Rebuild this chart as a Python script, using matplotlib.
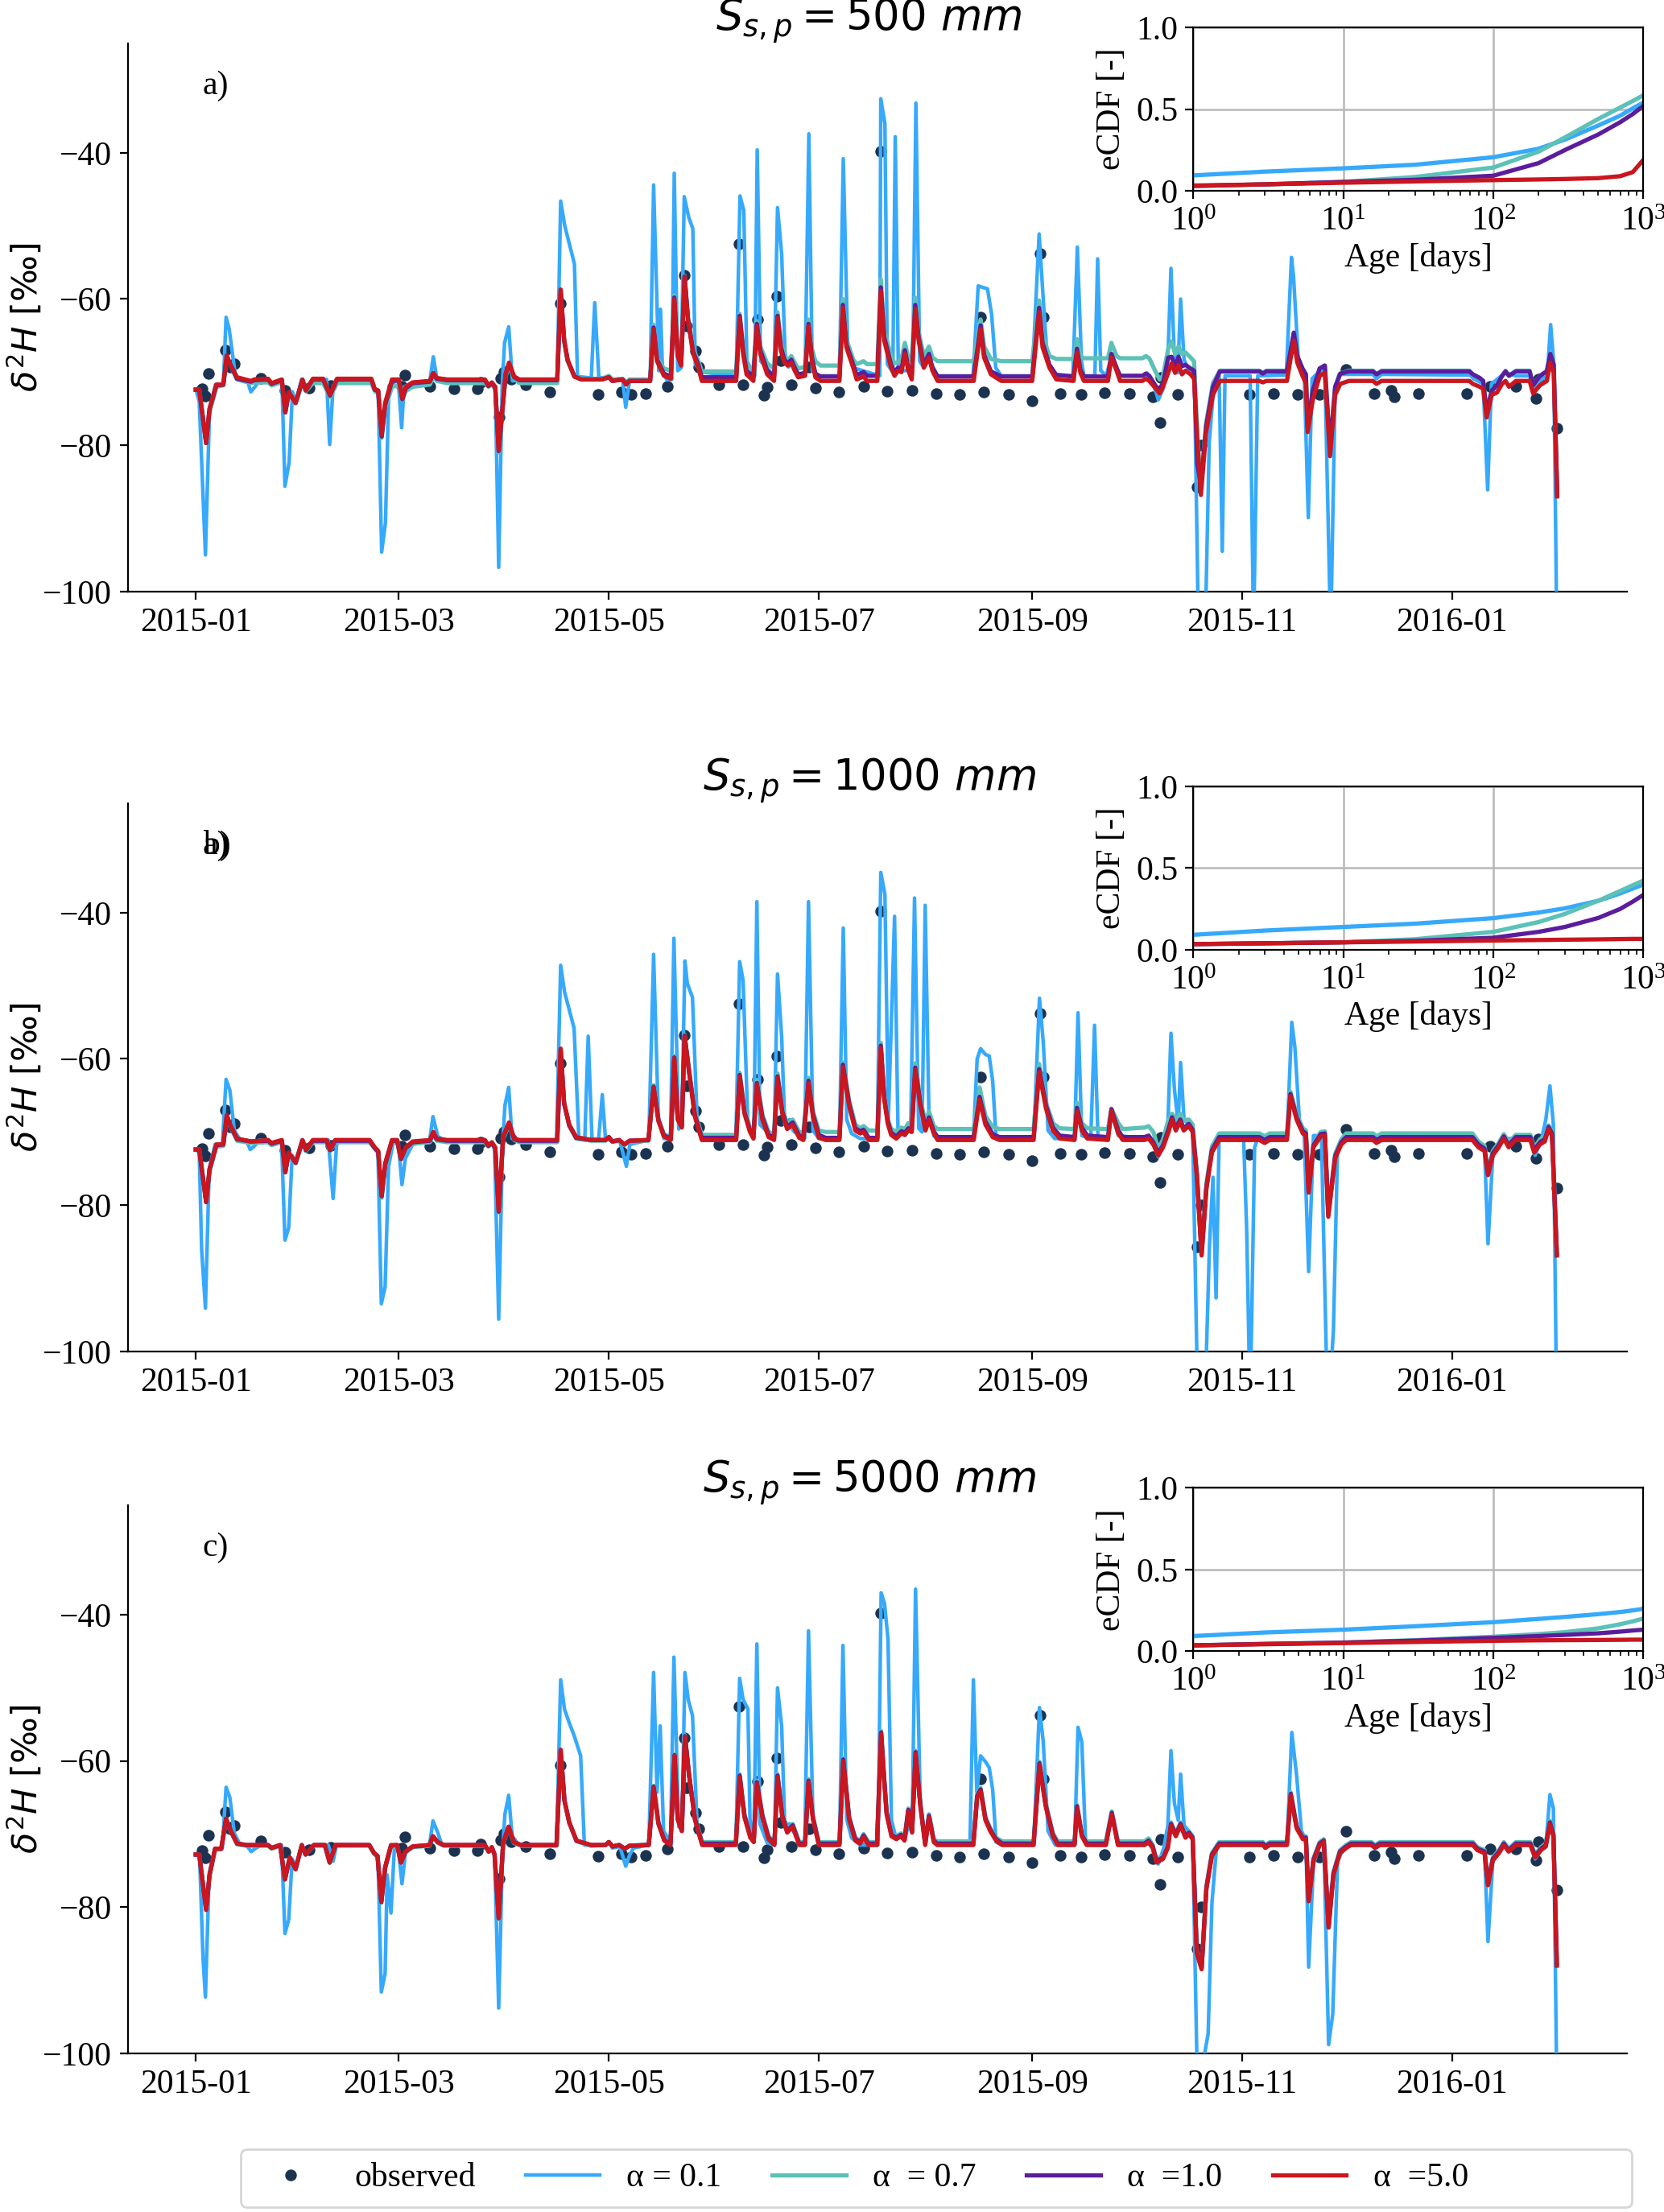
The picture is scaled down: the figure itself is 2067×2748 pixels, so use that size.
import numpy as np
import pandas as pd
import matplotlib
matplotlib.use('Agg')
import matplotlib.pyplot as plt
import matplotlib.dates as mdates

plt.rcParams['font.family'] = ['Liberation Serif', 'DejaVu Sans']
plt.rcParams['mathtext.fontset'] = 'stix'
plt.rcParams['font.size'] = 15

START = pd.Timestamp('2015-01-01')

# observed d2H, (day since 2015-01-01, value) - same in every panel
OBS = [(1.8, -72.3), (2.8, -73.3), (3.8, -70.2), (8.6, -67.0), (9.9, -69.3), (11.1, -68.9),
       (18.9, -70.9), (25.8, -72.5), (33, -72.2), (39.2, -71.8), (59.8, -71.9), (60.8, -70.4),
       (67.9, -71.9), (75, -72.3), (81.9, -72.3), (82.8, -71.4), (88.1, -76.1), (88.5, -70.8),
       (89.5, -70.0), (91.7, -71.0), (95.9, -71.7), (102.8, -72.7), (105.8, -60.6), (116.9, -73.0),
       (123.7, -72.7), (126.4, -73.1), (130.8, -72.9), (137, -72.0), (141.9, -56.8), (142.5, -63.7),
       (145.3, -67.1), (146.1, -69.3), (152, -71.7), (157.7, -52.5), (158.9, -71.7), (163.1, -62.8),
       (165, -73.2), (166.1, -72.1), (168.7, -59.6), (170, -68.4), (173, -71.7), (178.1, -69.3),
       (180.1, -72.2), (186.9, -72.7), (194, -71.9), (199, -39.8), (200.9, -72.6), (208.1, -72.5),
       (215.1, -72.9), (222, -73.1), (228, -62.5), (229, -72.7), (236.1, -73.1), (243, -73.9),
       (245.2, -53.8), (246.2, -62.5), (251.2, -72.9), (257.1, -73.1), (264.1, -72.8), (271.2, -72.9),
       (278.1, -73.4), (280.1, -76.9), (280.4, -70.7), (285.2, -73.1), (290.9, -85.7), (292, -80.0),
       (306.1, -73.1), (313.2, -72.9), (320.2, -73.1), (326.5, -73.1), (334.2, -69.6), (342.4, -72.9),
       (347.3, -72.5), (348.3, -73.4), (355.3, -72.9), (369.3, -72.9), (376.1, -72.0), (383.4, -72.0),
       (389.3, -73.6), (390.1, -71.0), (395.5, -77.7)]

# panel a) S=500 mm : (day, alpha=5.0, alpha=1.0, alpha=0.7)
P1_MODEL = [
    (0, -72.4, -72.4, -72.4), (1, -72.4, -72.4, -72.4), (3, -79.7, -79.7, -79.5), (4, -75.0, -75.0, -75.5),
    (6, -71.7, -71.8, -72.0), (8, -71.7, -71.7, -71.8), (9, -67.7, -67.8, -68.0), (10, -68.9, -69.0, -69.0),
    (12, -70.7, -70.9, -71.0), (16, -71.2, -71.3, -71.5), (17, -71.0, -71.1, -71.4), (21, -70.9, -71.0, -71.4),
    (22, -71.5, -71.6, -71.8), (25, -71.0, -71.1, -71.4), (26, -75.5, -75.5, -75.5), (27, -72.7, -72.8, -73.0),
    (29, -74.2, -74.2, -74.3), (31, -71.0, -71.1, -71.4), (32, -72.5, -72.5, -72.6), (34, -70.9, -71.0, -71.5),
    (37, -70.9, -71.0, -71.5), (39, -73.1, -73.2, -73.4), (41, -70.9, -71.0, -71.5), (51, -70.9, -71.0, -71.5),
    (52, -72.3, -72.4, -72.6), (53, -72.5, -72.6, -72.9), (54, -78.6, -78.8, -79.0), (55, -74.2, -74.5, -75.0),
    (57, -71.0, -71.2, -72.0), (59, -71.0, -71.1, -71.8), (60, -73.6, -73.7, -73.8), (61, -72.0, -72.2, -72.6),
    (63, -71.4, -71.5, -72.0), (68, -71.2, -71.3, -71.7), (69, -70.1, -70.2, -70.6), (70, -70.8, -70.9, -71.2),
    (73, -71.0, -71.1, -71.5), (84, -71.0, -71.1, -71.5), (85, -71.8, -71.9, -72.0), (86, -71.4, -71.5, -71.7),
    (87, -72.0, -72.1, -72.3), (88, -80.7, -80.8, -81.0), (90, -70.2, -70.3, -70.6), (91, -68.7, -68.8, -69.0),
    (92.5, -70.6, -70.7, -70.9), (94, -71.0, -71.1, -71.5), (105, -71.0, -71.1, -71.5), (106, -58.7, -58.8, -59.0),
    (107, -65.5, -65.6, -65.8), (108, -68.3, -68.3, -68.5), (110, -70.6, -70.6, -70.6), (112, -71.0, -71.0, -70.9),
    (118, -71.0, -71.0, -70.9), (120, -70.7, -70.7, -70.5), (121, -71.2, -71.2, -71.0), (124, -71.0, -71.0, -70.9),
    (125, -71.7, -71.6, -71.4), (126, -71.2, -71.2, -71.0), (132, -71.2, -71.2, -71.0), (133, -64.1, -63.9, -63.5),
    (134, -68.5, -68.3, -68.0), (136, -70.5, -70.2, -69.5), (138, -70.9, -70.6, -69.8), (139, -60.0, -59.8, -59.5),
    (140, -67.8, -67.5, -67.3), (141, -69.1, -68.9, -68.6), (142, -57.0, -56.9, -56.8), (143, -63.0, -62.8, -62.5),
    (144.5, -67.5, -67.2, -66.8), (146, -69.4, -69.0, -68.5), (147, -71.2, -70.7, -69.9), (157, -71.2, -70.7, -69.9),
    (158, -62.6, -62.3, -62.0), (159, -67.5, -67.0, -66.5), (160, -70.3, -69.8, -69.0), (162, -71.2, -70.6, -69.7),
    (163, -63.7, -63.4, -63.0), (164, -67.5, -67.0, -66.5), (166, -70.3, -69.8, -68.8), (168, -71.2, -70.6, -69.5),
    (169, -62.6, -62.3, -61.8), (170, -67.1, -66.6, -65.8), (171, -68.7, -68.3, -67.8), (172, -69.1, -68.8, -68.5),
    (173, -68.7, -68.3, -67.8), (174, -69.8, -69.4, -68.7), (175, -70.7, -70.3, -69.5), (177, -70.5, -70.1, -69.3),
    (178, -63.7, -63.4, -62.8), (179, -68.5, -68.0, -66.8), (180, -70.7, -70.2, -68.5), (181.5, -71.2, -70.6, -69.1),
    (187, -71.2, -70.6, -69.1), (188, -61.2, -60.8, -60.0), (189, -66.6, -66.2, -65.5), (191, -69.4, -69.0, -68.3),
    (192, -71.0, -70.4, -68.9), (194, -70.6, -70.0, -68.5), (195, -71.2, -70.5, -68.9), (198, -71.2, -70.5, -68.9),
    (199, -58.9, -58.4, -57.3), (200, -65.7, -65.2, -64.3), (202, -69.4, -69.0, -67.8), (203, -70.5, -70.0, -68.8),
    (204, -69.8, -69.4, -68.6), (205, -70.0, -69.6, -68.2), (206, -67.5, -67.0, -66.0), (207, -69.8, -69.4, -68.0),
    (208, -71.0, -70.4, -68.5), (209, -61.3, -60.8, -59.8), (210, -65.7, -65.3, -64.5), (211.5, -69.4, -69.0, -67.8),
    (213, -68.0, -67.5, -66.5), (214, -69.8, -69.4, -68.0), (215.5, -71.2, -70.6, -68.5), (226, -71.2, -70.6, -68.5),
    (228, -64.1, -63.6, -62.8), (229, -68.0, -67.6, -66.5), (231, -70.3, -69.9, -68.2), (234, -71.2, -70.6, -68.5),
    (243, -71.2, -70.6, -68.5), (245, -61.8, -61.2, -60.2), (246, -66.6, -66.0, -65.0), (248, -69.4, -69.0, -67.8),
    (250, -71.0, -70.4, -68.2), (255, -71.2, -70.6, -68.2), (256, -67.3, -66.8, -65.5), (257, -70.1, -69.7, -67.8),
    (258, -71.2, -70.6, -68.1), (265, -71.2, -70.6, -68.1), (266, -68.0, -67.5, -66.0), (267.5, -69.8, -69.4, -67.8),
    (268.5, -71.2, -70.5, -68.1), (275, -71.2, -70.5, -68.1), (276, -70.9, -70.2, -67.8), (277, -71.2, -70.5, -68.1),
    (279, -72.3, -72.0, -70.1), (280, -72.9, -72.3, -71.0), (281, -72.0, -71.5, -70.5), (282.5, -70.1, -68.0, -66.8),
    (283.5, -68.8, -67.9, -65.8), (284.5, -70.1, -69.2, -67.5), (285.5, -69.0, -67.9, -66.5), (286.5, -70.3, -69.2, -67.5),
    (287.5, -69.8, -69.0, -67.3), (289, -70.3, -69.5, -68.0), (290, -70.9, -69.8, -68.5), (291, -79.7, -82.6, -79.0),
    (292, -86.8, -85.5, -85.5), (293.5, -78.2, -77.5, -77.0), (295.5, -73.1, -72.0, -71.5), (297.5, -71.2, -69.9, -69.8),
    (309, -71.2, -69.9, -69.8), (310, -71.4, -70.2, -70.1), (311, -71.2, -69.9, -69.8), (317, -71.2, -69.9, -69.8),
    (318, -68.3, -67.2, -67.2), (319, -65.7, -64.6, -64.6), (320, -68.7, -67.8, -67.8), (321.5, -70.5, -69.5, -69.5),
    (322.5, -71.5, -70.3, -70.3), (323, -78.2, -77.5, -77.5), (324.5, -73.8, -72.5, -72.5), (326.5, -70.5, -69.5, -69.5),
    (328, -70.1, -69.1, -69.1), (329.5, -81.5, -80.5, -80.5), (331, -73.1, -72.0, -72.0), (332.5, -71.6, -70.2, -70.2),
    (335, -71.2, -69.9, -69.8), (342, -71.2, -69.9, -69.8), (343, -71.6, -70.3, -70.3), (344.5, -71.2, -69.9, -69.8),
    (370, -71.2, -69.9, -69.8), (371, -71.6, -70.3, -70.3), (373, -72.0, -70.8, -70.8), (374, -72.3, -71.2, -71.2),
    (375, -76.2, -75.5, -75.5), (376.5, -73.1, -72.5, -72.5), (378, -72.8, -71.8, -71.8), (379.5, -71.6, -70.5, -70.5),
    (380.5, -71.2, -69.9, -69.8), (381.5, -72.0, -70.5, -70.5), (383.5, -71.2, -69.9, -69.8), (387.5, -71.2, -69.9, -69.8),
    (388.5, -72.9, -71.8, -71.8), (390.5, -71.8, -70.5, -70.5), (392.5, -71.2, -69.9, -69.8), (393.5, -68.7, -67.5, -67.5),
    (394.5, -70.1, -69.0, -69.0), (395.5, -87.0, -86.7, -86.5)]

# panel a) alpha = 0.1 : (day, value)
P1_BLUE = [
    (0, -72.3), (1, -74.0), (2.8, -95.0), (4, -75.2), (5.7, -71.7), (8, -71.7), (8.8, -62.5), (9.7, -64.1),
    (11.6, -70.8), (15, -71.2), (16, -72.7), (17.2, -72.0), (18.5, -71.1), (21, -70.9), (22, -71.5), (25, -71.0),
    (25.9, -85.6), (27.1, -82.4), (28.1, -72.7), (29, -74.2), (30.7, -71.0), (31.7, -72.5), (34, -70.9), (38, -71.0),
    (38.9, -79.9), (39.9, -71.9), (41, -71.0), (51, -71.0), (52, -72.5), (53, -73.0), (54, -94.6), (55.1, -90.6),
    (56.1, -71.9), (58.8, -71.0), (59.8, -77.6), (60.5, -72.0), (63.5, -71.4), (68, -71.2), (69, -67.9), (70, -70.8),
    (73, -71.0), (84, -71.0), (85, -71.8), (86, -71.4), (87, -72.0), (88, -96.7), (89, -72.0), (89.7, -66.0),
    (90.9, -63.8), (92, -71.2), (94, -71.0), (105, -71.0), (106, -46.6), (107.2, -50.0), (110, -55.2), (110.9, -70.6),
    (114.9, -70.8), (115.9, -60.5), (117.1, -70.8), (120, -70.7), (121, -71.2), (124, -71.0), (124.9, -74.8),
    (126, -71.2), (132, -71.2), (133, -44.4), (133.8, -57.5), (134.5, -69.8), (135, -61.4), (135.6, -69.8),
    (136.8, -71.0), (138.3, -71.0), (139, -42.8), (140, -69.8), (141, -69.4), (141.9, -46.0), (143.2, -48.8),
    (144.4, -50.4), (145.1, -68.9), (147, -70.0), (157, -70.5), (158.1, -45.9), (159.2, -47.9), (160.1, -68.5),
    (162.4, -70.5), (163.1, -39.6), (164.1, -68.5), (168, -70.5), (169, -47.5), (170.2, -53.8), (171.2, -67.5),
    (172.2, -69.3), (173.2, -68.7), (175.3, -70.5), (177, -70.5), (178.1, -37.4), (179.1, -69.8), (181, -70.5),
    (187, -70.5), (188.1, -40.8), (189.4, -66.6), (191, -69.4), (198.7, -70.5), (199, -32.6), (200.2, -36.0),
    (200.9, -68.9), (202.5, -70.0), (203.2, -37.8), (204.1, -69.8), (206, -69.8), (208.3, -69.4), (209.2, -33.2),
    (210.3, -68.5), (211.5, -69.4), (213, -68.2), (215.5, -70.5), (225.8, -70.5), (227.3, -58.2), (228.5, -58.4),
    (230, -58.6), (231.2, -62.1), (232.4, -69.4), (234, -70.5), (243, -70.5), (245, -51.1), (246.1, -59.3),
    (247.4, -68.5), (249.5, -70.3), (254.8, -70.5), (256.1, -52.9), (257.3, -68.5), (258, -70.5), (261.2, -70.5),
    (262, -54.5), (262.9, -69.8), (264.5, -70.5), (266, -67.8), (268.5, -70.5), (275.4, -70.5), (276.3, -70.1),
    (277.5, -70.8), (279.2, -73.1), (279.6, -73.8), (281.1, -72.2), (282.5, -66.8), (283.3, -55.8), (284.2, -66.8),
    (285.3, -70.1), (286.1, -60.0), (287.1, -68.3), (288.2, -69.4), (290.1, -70.1), (291.1, -100), (292, -110),
    (293.5, -100), (294.4, -79.7), (295.8, -71.6), (297.3, -70.5), (298.2, -94.5), (299, -70.5), (306.3, -70.5),
    (307.3, -106), (308.5, -70.5), (316.8, -70.4), (318.3, -54.3), (318.9, -56.9), (320.4, -69.0), (322, -70.1),
    (323.2, -89.9), (324.3, -70.9), (326, -70.1), (328, -69.8), (329.7, -106), (331, -72.3), (332.1, -70.3),
    (342, -70.3), (343, -70.9), (344.5, -70.3), (370.2, -70.4), (371.2, -70.9), (374, -71.6), (375.3, -86.1),
    (376.4, -71.6), (379.3, -70.5), (380.5, -70.1), (383.5, -70.5), (387.4, -70.5), (388.8, -72.3), (390.4, -71.2),
    (392.6, -70.5), (393.6, -63.5), (394.5, -68.7), (395.5, -110)]

# panel b) S=1000 mm : (day, alpha=5.0, alpha=1.0, alpha=0.7)
P2_MODEL = [
    (0, -72.4, -72.4, -72.4), (1, -72.4, -72.4, -72.4), (3, -79.6, -79.6, -79.4), (4, -75.1, -75.1, -75.4),
    (6, -71.7, -71.8, -72.0), (8, -71.7, -71.7, -71.9), (9, -67.7, -67.8, -68.0), (10, -69.0, -69.1, -69.2),
    (12, -70.9, -71.0, -71.2), (16, -71.3, -71.3, -71.5), (21, -71.1, -71.2, -71.4), (22, -71.5, -71.6, -71.8),
    (25, -71.1, -71.2, -71.4), (26, -75.5, -75.5, -75.5), (27, -72.8, -72.9, -73.0), (29, -74.2, -74.2, -74.3),
    (31, -71.1, -71.2, -71.4), (32, -72.4, -72.5, -72.6), (34, -71.1, -71.2, -71.4), (38, -71.1, -71.2, -71.4),
    (39, -72.4, -72.5, -72.6), (40.5, -71.1, -71.2, -71.4), (50.5, -71.1, -71.2, -71.4), (52, -72.1, -72.2, -72.3),
    (53, -72.6, -72.7, -72.8), (54, -78.7, -78.8, -79.0), (55, -74.3, -74.5, -74.8), (57, -71.1, -71.2, -71.5),
    (58.5, -71.1, -71.2, -71.4), (59.6, -73.6, -73.7, -73.8), (61, -72.1, -72.2, -72.4), (63, -71.3, -71.4, -71.6),
    (68, -71.1, -71.2, -71.4), (69, -70.0, -70.1, -70.3), (70, -70.9, -71.0, -71.2), (73, -71.1, -71.2, -71.4),
    (84, -71.1, -71.2, -71.4), (85, -71.8, -71.9, -72.0), (86, -71.4, -71.5, -71.6), (87, -72.1, -72.2, -72.3),
    (88, -80.8, -80.9, -81.0), (89.3, -70.6, -70.7, -70.9), (91, -68.7, -68.8, -69.0), (92.5, -70.9, -71.0, -71.1),
    (94, -71.1, -71.2, -71.4), (105, -71.1, -71.2, -71.4), (106, -58.6, -58.7, -58.8), (107, -66.0, -66.1, -66.2),
    (108.5, -69.0, -69.1, -69.2), (110.5, -70.7, -70.8, -70.9), (115, -71.1, -71.1, -71.2), (119, -71.1, -71.1, -71.2),
    (120, -70.7, -70.7, -70.8), (121, -71.3, -71.3, -71.3), (123, -71.1, -71.1, -71.2), (124.5, -71.7, -71.7, -71.8),
    (126, -71.2, -71.2, -71.3), (131.5, -71.1, -71.1, -71.2), (133, -63.9, -63.8, -63.6), (134.4, -68.5, -68.4, -68.2),
    (136, -70.6, -70.5, -70.3), (138, -71.1, -70.9, -70.7), (139, -59.9, -59.8, -59.6), (140, -68.3, -68.1, -67.9),
    (141.2, -69.4, -69.2, -69.0), (142, -56.9, -56.8, -56.7), (143.3, -61.8, -61.7, -61.5), (145, -67.9, -67.7, -67.4),
    (147, -71.1, -70.8, -70.4), (157, -71.1, -70.8, -70.4), (158, -62.4, -62.2, -61.9), (159.4, -67.5, -67.3, -66.9),
    (161, -70.0, -69.8, -69.4), (162, -70.9, -70.6, -70.2), (163, -63.5, -63.3, -62.9), (164.6, -68.3, -68.0, -67.6),
    (166.4, -70.7, -70.4, -70.0), (168, -71.1, -70.8, -70.3), (169, -62.6, -62.4, -62.0), (170.4, -67.5, -67.2, -66.8),
    (171.8, -69.6, -69.3, -68.9), (173.4, -69.0, -68.7, -68.3), (175.3, -70.8, -70.5, -70.0), (176.5, -71.1, -70.8, -70.1),
    (178, -63.3, -63.0, -62.6), (179.3, -67.9, -67.6, -67.2), (181, -70.8, -70.4, -69.8), (183, -71.1, -70.8, -70.0),
    (187, -71.1, -70.8, -70.0), (188, -61.1, -60.8, -60.5), (189.8, -66.4, -66.1, -65.7), (191.6, -69.8, -69.5, -69.0),
    (193, -70.2, -69.9, -69.5), (194, -70.0, -69.7, -69.2), (195.5, -71.1, -70.8, -69.8), (198, -71.1, -70.8, -69.8),
    (199, -58.5, -58.2, -57.8), (200, -65.5, -65.3, -65.0), (201, -68.8, -68.5, -68.2), (202, -70.4, -70.1, -69.6),
    (203.5, -70.9, -70.6, -69.9), (205, -70.2, -69.9, -69.4), (206, -70.4, -70.1, -69.6), (207, -69.8, -69.5, -68.8),
    (208, -70.0, -69.7, -69.2), (209, -61.5, -61.2, -60.6), (210.5, -66.4, -66.1, -65.5), (212, -69.8, -69.5, -68.8),
    (213, -68.3, -68.0, -67.2), (214.4, -70.2, -69.9, -69.2), (215.5, -71.1, -70.7, -69.6), (226, -71.1, -70.7, -69.6),
    (227.7, -65.6, -65.2, -63.9), (229.4, -69.0, -68.6, -67.8), (231.5, -70.7, -70.3, -69.3), (233.5, -71.1, -70.7, -69.6),
    (243.4, -71.1, -70.7, -69.6), (245, -61.8, -61.4, -60.7), (247, -66.8, -66.4, -66.0), (249, -69.8, -69.4, -68.8),
    (251, -70.9, -70.5, -69.5), (255.3, -71.1, -70.7, -69.6), (256, -67.1, -66.7, -66.0), (257.4, -69.8, -69.4, -68.8),
    (259, -70.9, -70.5, -69.5), (265, -71.1, -70.7, -69.6), (266, -67.1, -66.9, -66.8), (268, -70.2, -69.8, -68.8),
    (269.3, -71.1, -70.7, -69.6), (275.6, -71.1, -70.7, -69.4), (276.8, -70.9, -70.5, -69.2), (278.2, -71.7, -71.4, -70.0),
    (279.6, -73.2, -72.9, -72.4), (281, -72.1, -71.8, -71.0), (282.6, -70.0, -69.6, -68.3), (283.6, -68.3, -68.0, -67.5),
    (284.7, -69.8, -69.5, -68.3), (286, -68.6, -68.3, -67.5), (287, -69.8, -69.5, -68.4), (288.5, -69.2, -68.9, -68.3),
    (289.6, -70.0, -69.7, -69.0), (290.8, -75.9, -75.7, -75.5), (292.2, -86.9, -86.6, -86.0), (293.6, -77.8, -77.5, -77.0),
    (295.2, -72.8, -72.5, -72.0), (297.3, -71.1, -70.7, -70.2), (309, -71.1, -70.7, -70.2), (310.5, -71.5, -71.1, -70.6),
    (312, -71.1, -70.7, -70.2), (317, -71.1, -70.7, -70.2), (318, -65.1, -64.8, -64.5), (319.8, -68.3, -68.0, -67.6),
    (321.6, -70.2, -69.9, -69.5), (322.5, -70.5, -70.2, -69.8), (323.3, -78.3, -78.0, -77.8), (324.7, -72.1, -71.8, -71.6),
    (326.8, -70.6, -70.3, -70.0), (328, -70.5, -70.2, -69.9), (329, -81.6, -81.3, -81.0), (331, -73.6, -73.3, -73.0),
    (332.8, -71.7, -71.4, -71.0), (334.2, -71.1, -70.7, -70.2), (342, -71.1, -70.7, -70.2), (343, -71.5, -71.1, -70.6),
    (344.5, -71.1, -70.7, -70.2), (370.9, -71.1, -70.7, -70.2), (372.6, -72.1, -71.7, -71.3), (374.4, -72.6, -72.3, -71.9),
    (375.4, -75.9, -75.7, -75.4), (376.8, -73.2, -72.9, -72.6), (378.5, -72.1, -71.8, -71.5), (380, -70.9, -70.6, -70.3),
    (381.4, -72.1, -71.8, -71.4), (383.5, -71.1, -70.7, -70.4), (387.7, -71.1, -70.7, -70.4), (388.8, -72.8, -72.5, -72.2),
    (390.5, -71.7, -71.4, -71.0), (391.9, -71.3, -71.0, -70.6), (393, -69.6, -69.3, -69.1), (394, -70.5, -70.2, -69.9),
    (395.4, -86.9, -86.7, -86.5)]

P2_BLUE = [
    (0, -72.4), (1, -72.8), (1.7, -86.1), (2.8, -94.1), (3.9, -75.1), (5.6, -71.7), (7.7, -71.9), (8.8, -62.8),
    (9.9, -64.3), (11.2, -69.8), (12.9, -71.1), (14.7, -71.1), (15.8, -72.4), (17.1, -71.9), (18.5, -71.1), (21, -71.1),
    (22, -71.7), (24.9, -71.1), (25.9, -84.8), (27, -83.1), (28, -73.2), (29.1, -74.3), (30.8, -71.1), (31.9, -72.6),
    (34.3, -71.1), (38.5, -71.1), (39.9, -79.1), (40.9, -71.7), (42, -71.1), (50.4, -71.1), (51.8, -72.1), (52.9, -72.6),
    (53.9, -93.5), (55, -91.2), (56, -74.7), (57.4, -71.3), (58.8, -71.3), (59.9, -77.2), (60.9, -73.6), (63, -71.7),
    (67.9, -71.3), (68.9, -67.9), (70.3, -70.6), (72, -71.1), (84, -71.1), (85.1, -71.9), (86, -71.4), (86.8, -72.4),
    (88, -95.6), (89.1, -72.1), (89.8, -66.4), (90.9, -63.9), (91.9, -70.9), (93.8, -71.1), (104.8, -71.1),
    (106, -47.2), (107.1, -50.8), (109.9, -55.8), (111.3, -71.0), (113, -71.1), (114, -56.9), (115.1, -70.9),
    (117, -71.1), (118.1, -64.9), (119, -70.9), (121, -71.3), (123.2, -71.3), (125.1, -74.7), (126.1, -71.7),
    (131.6, -71.1), (133, -45.7), (134.4, -68.3), (136, -70.9), (137.9, -70.9), (138.9, -43.5), (140.3, -69.6),
    (141.2, -68.3), (142.1, -46.6), (142.8, -49.7), (144.3, -51.6), (145.7, -69.0), (147.1, -71.1), (156.9, -71.1),
    (158, -46.7), (159, -49.3), (160.4, -69.0), (162.1, -70.9), (163, -38.5), (163.9, -69.0), (168, -70.9),
    (169, -48.4), (170.2, -56.9), (171.1, -69.0), (172.5, -68.3), (173.5, -69.8), (175.5, -70.6), (176.9, -70.9),
    (178, -38.5), (179.3, -69.8), (181, -70.9), (187, -70.9), (188.1, -42.1), (189.1, -68.3), (190.5, -70.2),
    (193, -70.9), (198, -70.9), (199, -34.5), (200.2, -37.5), (201.2, -68.3), (203, -40.5), (204, -69.8),
    (206, -70.5), (207.7, -69.0), (208.8, -38.0), (210, -69.5), (211, -70.0), (211.9, -39.0), (213, -68.0),
    (214.5, -70.6), (216, -70.9), (225.9, -70.9), (227, -60.0), (228, -58.6), (229.4, -59.4), (230.5, -59.6),
    (231.5, -63.0), (232.5, -70.9), (243.4, -70.9), (245.1, -51.7), (246.2, -57.7), (247.6, -69.8), (249.5, -70.9),
    (255.3, -70.9), (256.3, -53.7), (257.4, -70.5), (260, -70.9), (261.1, -55.4), (262.1, -70.9), (265, -70.9),
    (266, -67.3), (268, -70.5), (275.6, -70.9), (276.8, -70.9), (278.4, -72.0), (279.6, -73.4), (281, -71.7),
    (282.4, -69.0), (283.3, -56.5), (284.3, -64.1), (285.4, -69.0), (286.1, -60.5), (287.1, -68.3), (288.5, -69.0),
    (289.6, -69.8), (290.8, -100), (292, -112), (293.6, -100), (294.5, -85.3), (295.5, -76.2), (296.4, -92.7),
    (297.3, -70.6), (304.4, -70.9), (305.3, -83.4), (306.3, -108), (307.6, -72.1), (308.5, -70.9), (317, -70.9),
    (318.4, -55.0), (319.3, -58.4), (320.7, -69.0), (322, -70.5), (323.3, -89.1), (324.7, -70.5), (327, -70.5),
    (328.6, -104), (329.6, -104), (330.5, -97.1), (331.7, -72.1), (332.8, -71.3), (334, -70.9), (370.9, -70.9),
    (372.6, -71.7), (374.4, -72.4), (375.4, -85.3), (376.8, -73.2), (378.6, -71.7), (380, -70.9), (383.5, -70.9),
    (387.7, -70.9), (389.1, -73.2), (391, -70.9), (392.2, -68.3), (393.4, -63.7), (394.4, -69.0), (395.4, -110)]

# panel c) S=5000 mm : (day, alpha=5.0, alpha=1.0, alpha=0.7)
P3_MODEL = [
    (0, -72.8, -72.8, -72.8), (1, -72.8, -72.8, -72.8), (3, -80.4, -80.3, -80.2), (4, -75.6, -75.6, -75.7),
    (5.6, -72.0, -72.0, -72.1), (7.4, -72.0, -72.0, -72.1), (8.8, -67.9, -67.9, -68.0), (10.2, -69.6, -69.6, -69.7),
    (12, -71.3, -71.3, -71.4), (14.7, -71.5, -71.5, -71.6), (21, -71.5, -71.5, -71.6), (22, -71.9, -71.9, -72.0),
    (24.5, -71.5, -71.5, -71.6), (25.9, -76.2, -76.2, -76.2), (27.3, -73.2, -73.2, -73.3), (29, -74.8, -74.8, -74.8),
    (30.8, -71.5, -71.5, -71.6), (31.9, -72.8, -72.8, -72.8), (34.3, -71.5, -71.5, -71.6), (37.5, -71.5, -71.5, -71.6),
    (38.9, -73.9, -73.9, -73.9), (40.6, -71.5, -71.5, -71.6), (50.4, -71.5, -71.5, -71.6), (51.8, -72.6, -72.6, -72.7),
    (52.8, -73.0, -73.0, -73.1), (53.9, -79.2, -79.3, -79.4), (55, -74.5, -74.6, -74.8), (56.7, -71.5, -71.6, -71.8),
    (58.5, -71.5, -71.5, -71.6), (59.6, -73.9, -73.9, -73.9), (60.9, -72.4, -72.4, -72.5), (63, -71.7, -71.7, -71.8),
    (67.9, -71.5, -71.5, -71.6), (68.9, -70.3, -70.3, -70.4), (70.3, -71.1, -71.1, -71.2), (72, -71.5, -71.5, -71.6),
    (84, -71.5, -71.5, -71.6), (85.1, -72.4, -72.4, -72.4), (86, -71.8, -71.8, -71.9), (86.8, -72.8, -72.8, -72.8),
    (88, -81.5, -81.5, -81.6), (89.3, -71.1, -71.2, -71.3), (90.9, -69.0, -69.0, -69.1), (92.4, -71.1, -71.1, -71.2),
    (94.5, -71.5, -71.5, -71.6), (104.8, -71.5, -71.5, -71.6), (106, -58.5, -58.5, -58.5), (107.1, -65.4, -65.4, -65.5),
    (108.5, -68.4, -68.4, -68.5), (110.6, -70.9, -70.9, -71.0), (114.8, -71.5, -71.5, -71.6), (119, -71.5, -71.5, -71.5),
    (120, -71.1, -71.1, -71.1), (121.1, -71.7, -71.7, -71.7), (123, -71.5, -71.5, -71.5), (124.6, -72.0, -72.0, -72.0),
    (126, -71.6, -71.6, -71.6), (131.6, -71.5, -71.5, -71.4), (133, -63.6, -63.5, -63.4), (134.4, -68.6, -68.5, -68.4),
    (136.1, -70.9, -70.8, -70.7), (137.9, -71.5, -71.4, -71.3), (139.1, -59.3, -59.2, -59.1), (140, -68.0, -67.9, -67.8),
    (141.2, -69.6, -69.5, -69.4), (142.1, -56.7, -56.6, -56.5), (143.3, -62.0, -61.9, -61.8), (145, -68.0, -67.9, -67.7),
    (147.1, -71.5, -71.3, -71.1), (156.9, -71.5, -71.3, -71.1), (158, -62.2, -62.0, -61.8), (159.4, -67.7, -67.5, -67.3),
    (161.1, -70.5, -70.3, -70.1), (162.1, -71.1, -70.9, -70.7), (163, -63.1, -62.9, -62.7), (164.6, -67.7, -67.5, -67.3),
    (166.4, -70.7, -70.5, -70.3), (168.1, -71.5, -71.3, -71.1), (169, -62.2, -62.0, -61.8), (170.4, -67.7, -67.5, -67.3),
    (171.8, -69.8, -69.6, -69.4), (173.4, -69.0, -68.8, -68.6), (175.3, -71.5, -71.3, -71.1), (177, -71.5, -71.3, -71.1),
    (178, -62.9, -62.7, -62.5), (179.3, -68.0, -67.8, -67.6), (181, -71.5, -71.3, -71.1), (187, -71.5, -71.3, -71.1),
    (188.1, -60.0, -59.8, -59.6), (189.8, -68.0, -67.8, -67.6), (191.6, -70.9, -70.7, -70.5), (193, -71.3, -71.1, -70.9),
    (194, -70.4, -70.2, -70.0), (195.4, -71.5, -71.3, -71.1), (197.9, -71.5, -71.3, -71.1), (199.1, -56.3, -56.1, -55.9),
    (200, -62.8, -62.6, -62.4), (200.7, -67.3, -67.1, -66.9), (202.1, -70.3, -70.1, -69.9), (203.5, -70.7, -70.5, -70.3),
    (204.9, -70.3, -70.1, -69.9), (205.9, -70.9, -70.7, -70.5), (207, -66.9, -66.7, -66.5), (208.1, -69.8, -69.6, -69.4),
    (209.1, -59.0, -58.8, -58.6), (210.5, -66.2, -66.0, -65.8), (211.9, -71.5, -71.3, -71.1), (213, -67.7, -67.5, -67.3),
    (214.4, -71.1, -70.9, -70.7), (215.4, -71.5, -71.3, -71.0), (225.9, -71.5, -71.3, -71.0), (227, -65.0, -64.8, -64.6),
    (228, -64.1, -63.9, -63.7), (229.4, -68.1, -67.9, -67.7), (230.8, -69.6, -69.4, -69.2), (232.5, -70.9, -70.7, -70.5),
    (234.3, -71.5, -71.3, -71.0), (243.4, -71.5, -71.3, -71.0), (245.1, -60.5, -60.3, -60.1), (246.9, -66.2, -66.0, -65.8),
    (249, -70.3, -70.1, -69.9), (250.4, -71.5, -71.3, -71.0), (255.3, -71.5, -71.3, -71.0), (256, -66.4, -66.2, -66.0),
    (257.4, -70.3, -70.1, -69.9), (258.8, -71.5, -71.3, -71.0), (264.4, -71.5, -71.3, -71.0), (266.1, -67.3, -67.1, -66.9),
    (267.9, -71.5, -71.3, -71.0), (275.6, -71.5, -71.3, -71.0), (276.8, -71.1, -70.9, -70.6), (278, -71.9, -71.7, -71.5),
    (279.1, -73.9, -73.7, -73.5), (281, -73.4, -73.2, -73.0), (282.4, -71.9, -71.7, -71.5), (283.3, -68.8, -68.6, -68.4),
    (284.7, -70.3, -70.1, -69.9), (286.1, -68.8, -68.6, -68.4), (287.5, -70.5, -70.3, -70.1), (288.5, -70.0, -69.8, -69.6),
    (289.6, -70.7, -70.5, -70.3), (290.8, -86.3, -86.1, -85.9), (292.2, -88.5, -88.3, -88.1), (293.6, -77.5, -77.3, -77.1),
    (295.2, -73.0, -72.8, -72.6), (297.3, -71.5, -71.3, -71.1), (310, -71.5, -71.3, -71.1), (310.7, -71.9, -71.7, -71.5),
    (312, -71.5, -71.3, -71.1), (317, -71.5, -71.3, -71.1), (318.1, -64.7, -64.5, -64.3), (319.8, -69.2, -69.0, -68.8),
    (321.6, -70.7, -70.5, -70.3), (322.5, -70.7, -70.5, -70.3), (323.3, -79.2, -79.0, -78.8), (324.7, -73.7, -73.5, -73.3),
    (326.5, -71.5, -71.3, -71.1), (327.7, -71.1, -70.9, -70.7), (329.1, -82.8, -82.6, -82.4), (330.5, -75.6, -75.4, -75.2),
    (332.4, -72.6, -72.4, -72.2), (334.2, -71.9, -71.7, -71.5), (335.6, -71.5, -71.3, -71.1), (341.5, -71.5, -71.3, -71.1),
    (342.6, -71.9, -71.7, -71.5), (344, -71.5, -71.3, -71.1), (371, -71.5, -71.3, -71.1), (372.3, -72.2, -72.0, -71.8),
    (374.4, -72.6, -72.4, -72.2), (375.4, -77.0, -76.8, -76.6), (376.8, -73.6, -73.4, -73.2), (378.6, -72.6, -72.4, -72.2),
    (380, -71.5, -71.3, -71.1), (381.4, -72.4, -72.2, -72.0), (383.5, -71.5, -71.3, -71.1), (387.7, -71.5, -71.3, -71.1),
    (389.1, -73.2, -73.0, -72.8), (390.8, -72.2, -72.0, -71.8), (392.2, -71.7, -71.5, -71.3), (393.4, -68.6, -68.4, -68.2),
    (394.4, -70.3, -70.1, -69.9), (395.4, -88.0, -87.8, -87.6)]

P3_BLUE = [
    (0, -72.8), (1.1, -73.0), (2.1, -87.0), (2.8, -92.3), (3.9, -75.3), (5.6, -72.0), (7.7, -71.9), (8.8, -63.6),
    (9.9, -65.0), (11.2, -69.9), (12.9, -71.5), (14.7, -71.5), (16.1, -72.4), (17.5, -71.9), (19, -71.5), (21, -71.5),
    (22, -71.9), (24.9, -71.5), (25.9, -83.6), (27, -81.7), (28, -73.4), (29.1, -74.5), (30.8, -71.5), (32, -72.8),
    (34.3, -71.5), (38.5, -71.5), (39.9, -73.7), (40.9, -71.5), (50.4, -71.5), (51.8, -72.6), (52.9, -73.0),
    (53.9, -91.6), (55, -89.1), (55.6, -75.6), (56.7, -80.8), (57.7, -71.9), (58.8, -71.9), (59.9, -76.8),
    (60.9, -72.6), (63, -71.7), (67.9, -71.5), (68.9, -68.2), (70.3, -69.8), (71.5, -71.5), (84, -71.5), (85.1, -72.4),
    (86, -71.8), (86.8, -72.8), (88, -93.8), (89.1, -72.6), (89.8, -67.3), (90.9, -64.7), (91.9, -70.3), (93.8, -71.5),
    (104.8, -71.5), (106, -48.9), (107.1, -52.9), (108.5, -54.8), (109.9, -56.5), (111.8, -59.3), (112.9, -71.5),
    (119, -71.5), (120.1, -71.1), (121, -71.9), (123.2, -71.7), (124.9, -74.4), (126.1, -72.8), (127.2, -71.9),
    (131.6, -71.5), (133, -47.9), (134, -64.3), (134.9, -55.2), (135.9, -69.6), (137.9, -71.1), (138.9, -45.8),
    (140.3, -69.0), (141.2, -69.2), (142.1, -47.9), (143.1, -51.7), (144.3, -53.8), (145.7, -69.4), (147.1, -71.5),
    (156.9, -71.5), (158, -48.7), (159, -51.6), (160.4, -52.9), (161, -68.0), (162.1, -71.1), (163, -44.0),
    (163.9, -68.6), (166, -71.2), (168.1, -71.5), (169, -50.0), (170.2, -55.2), (171.1, -68.8), (172.5, -68.6),
    (173.6, -69.6), (175.8, -71.5), (176.9, -71.5), (178, -42.2), (179.3, -68.0), (181, -71.5), (187, -71.5),
    (188, -44.2), (189.1, -68.0), (190.5, -70.5), (193, -71.5), (198.2, -71.5), (199.1, -37.0), (200.1, -38.5),
    (201.1, -43.4), (202.1, -68.1), (203.5, -70.7), (204.9, -70.3), (205.9, -70.9), (207, -68.8), (208.1, -69.8),
    (209.1, -36.5), (210.5, -66.2), (211.9, -71.5), (213, -67.3), (214.4, -71.1), (215.4, -71.5), (224.9, -71.5),
    (225.9, -48.9), (226.9, -64.3), (228, -59.3), (229.4, -60.1), (230.5, -60.9), (231.5, -63.9), (232.5, -71.1),
    (234, -71.5), (243.4, -71.5), (245.1, -52.7), (246.2, -57.4), (247.6, -69.6), (249.7, -71.5), (255.3, -71.5),
    (256.3, -55.4), (257.4, -57.4), (258.5, -71.1), (260, -71.5), (264.4, -71.5), (266.1, -67.3), (267.9, -71.5),
    (275.6, -71.5), (276.8, -71.3), (278, -71.9), (279.6, -74.1), (281.2, -71.9), (282.4, -68.8), (283.3, -58.6),
    (284.3, -65.8), (285.4, -68.1), (286.1, -61.8), (287.1, -68.8), (288.5, -69.6), (289.6, -70.7), (290.8, -100),
    (292, -110), (293.1, -100), (294.1, -97.3), (295.2, -79.4), (296.6, -71.5), (317, -71.5), (318.4, -56.1),
    (319.8, -62.0), (321.2, -69.6), (322.5, -70.7), (323.3, -88.2), (324.7, -74.1), (326.5, -71.5), (327.7, -71.1),
    (329.1, -98.8), (330.3, -94.6), (331.7, -73.7), (332.8, -72.6), (334.2, -71.9), (335.6, -71.5), (341.5, -71.5),
    (342.6, -71.9), (344, -71.5), (369.5, -71.5), (371, -71.5), (372.3, -72.2), (374.4, -72.6), (375.4, -84.7),
    (376.8, -73.7), (378.6, -72.6), (380, -71.5), (381.4, -72.4), (383.5, -71.5), (387.7, -71.5), (389.1, -73.4),
    (390.8, -72.2), (392.2, -71.5), (393.4, -64.6), (394.4, -66.5), (395.4, -105)]

# inset eCDF of water age
AGE = [1, 3, 10, 30, 100, 200, 300, 500, 700, 850, 1000]
ECDF1 = {'0.1': [0.095, 0.118, 0.138, 0.160, 0.206, 0.258, 0.314, 0.400, 0.460, 0.505, 0.540],
         '0.7': [0.030, 0.040, 0.055, 0.085, 0.143, 0.240, 0.327, 0.440, 0.510, 0.550, 0.585],
         '1.0': [0.030, 0.040, 0.055, 0.068, 0.093, 0.170, 0.250, 0.345, 0.420, 0.470, 0.520],
         '5.0': [0.033, 0.040, 0.050, 0.058, 0.066, 0.070, 0.073, 0.078, 0.090, 0.115, 0.190]}
ECDF2 = {'0.1': [0.092, 0.118, 0.140, 0.160, 0.194, 0.228, 0.254, 0.300, 0.345, 0.375, 0.400],
         '0.7': [0.035, 0.040, 0.046, 0.065, 0.110, 0.170, 0.220, 0.300, 0.360, 0.395, 0.424],
         '1.0': [0.035, 0.040, 0.046, 0.055, 0.074, 0.110, 0.140, 0.195, 0.250, 0.295, 0.336],
         '5.0': [0.035, 0.040, 0.046, 0.051, 0.057, 0.060, 0.062, 0.064, 0.066, 0.067, 0.067]}
ECDF3 = {'0.1': [0.093, 0.115, 0.132, 0.153, 0.178, 0.198, 0.210, 0.227, 0.240, 0.250, 0.260],
         '0.7': [0.036, 0.045, 0.053, 0.068, 0.089, 0.105, 0.117, 0.140, 0.165, 0.183, 0.200],
         '1.0': [0.036, 0.045, 0.053, 0.065, 0.082, 0.093, 0.100, 0.110, 0.120, 0.127, 0.132],
         '5.0': [0.036, 0.043, 0.050, 0.057, 0.064, 0.067, 0.068, 0.069, 0.070, 0.071, 0.071]}

C_OBS = '#1b3350'
C_01 = '#36a9fb'
C_07 = '#5cc1b6'
C_10 = '#5b1d9c'
C_50 = '#c9161f'


def to_dates(days):
    return START + pd.to_timedelta(np.asarray(days, dtype=float), unit='D')


fig = plt.figure(figsize=(10.335, 13.74), dpi=200)

panels = [
    (r'$S_{s,p} = 500\ mm$', ['a)'], P1_MODEL, P1_BLUE, ECDF1, 0.7326, 0.9137),
    (r'$S_{s,p} = 1000\ mm$', ['a)', 'b)'], P2_MODEL, P2_BLUE, ECDF2, 0.3891, 0.5706),
    (r'$S_{s,p} = 5000\ mm$', ['c)'], P3_MODEL, P3_BLUE, ECDF3, 0.0717, 0.2535),
]

obs_day, obs_val = zip(*OBS)
handles = None
for title, tags, model, blue, ecdf, bottom, ibottom in panels:
    ax = fig.add_axes([0.0767, bottom, 0.9011, 0.2479])
    m_day, m_red, m_pur, m_teal = zip(*model)
    b_day, b_val = zip(*blue)

    h0, = ax.plot(to_dates(obs_day), obs_val, 'o', color=C_OBS, ms=5.2, mew=0, zorder=2)
    h1, = ax.plot(to_dates(b_day), b_val, color=C_01, lw=1.6, zorder=3)
    h2, = ax.plot(to_dates(m_day), m_teal, color=C_07, lw=1.9, zorder=3)
    h3, = ax.plot(to_dates(m_day), m_pur, color=C_10, lw=1.9, zorder=3)
    h4, = ax.plot(to_dates(m_day), m_red, color=C_50, lw=1.9, zorder=3)
    if handles is None:
        handles = [h0, h1, h2, h3, h4]

    ax.set_ylim(-100, -25)
    ax.set_yticks([-100, -80, -60, -40])
    ax.set_xlim(to_dates([-19.8])[0], to_dates([415.8])[0])
    ax.xaxis.set_major_locator(mdates.MonthLocator(bymonth=[1, 3, 5, 7, 9, 11]))
    ax.xaxis.set_major_formatter(mdates.DateFormatter('%Y-%m'))
    ax.tick_params(labelsize=15)
    ax.spines['top'].set_visible(False)
    ax.spines['right'].set_visible(False)

    ax.set_ylabel(r'$\delta^2H$ [‰]', fontsize=15.5, family='DejaVu Sans',
                  math_fontfamily='dejavusans')
    ax.yaxis.set_label_coords(-0.055, 0.5)
    # title placed by hand just above the axes
    ax.text(0.4945, 1.023, title, transform=ax.transAxes, fontsize=19,
            ha='center', va='baseline', math_fontfamily='dejavusans')
    for t in tags:
        ax.text(0.05, 0.922, t, transform=ax.transAxes, fontsize=15,
                ha='left', va='center')

    # inset with the age distribution
    iax = fig.add_axes([0.7172, ibottom, 0.2704, 0.0739])
    iax.set_xscale('log')
    iax.plot(AGE, ecdf['0.1'], color=C_01, lw=1.9)
    iax.plot(AGE, ecdf['0.7'], color=C_07, lw=1.9)
    iax.plot(AGE, ecdf['1.0'], color=C_10, lw=1.9)
    iax.plot(AGE, ecdf['5.0'], color=C_50, lw=1.9)
    iax.set_xlim(1, 1000)
    iax.set_ylim(0, 1)
    iax.set_yticks([0, 0.5, 1.0])
    iax.grid(True, which='major', color='0.72', lw=0.9)
    iax.set_axisbelow(True)
    iax.tick_params(labelsize=15)
    iax.set_xlabel('Age [days]', fontsize=15, labelpad=2)
    iax.set_ylabel('eCDF [-]', fontsize=15)

labels = ['observed', 'α = 0.1', 'α  = 0.7', 'α  =1.0', 'α  =5.0' + ' ' * 18]
fig.legend(handles, labels, loc='center', bbox_to_anchor=(0.5627, 0.0153), ncol=5,
           fontsize=15, handlelength=2.2, handletextpad=0.8, columnspacing=1.5,
           borderpad=0.4, numpoints=1)

fig.savefig('out.png', dpi=200)
